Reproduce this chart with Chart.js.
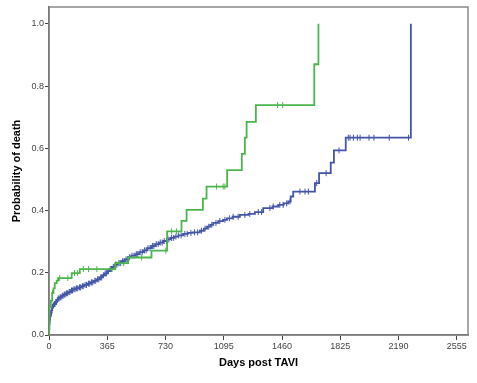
<!DOCTYPE html>
<html><head><meta charset="utf-8">
<script src="https://cdn.jsdelivr.net/npm/chart.js@4/dist/chart.umd.min.js"></script>
<style>html,body{margin:0;padding:0;background:#fff;}canvas{display:block;}</style>
</head><body>
<canvas id="c" width="477" height="383"></canvas>
<script>
// ---- data ----
const xTickValues = [0, 365, 730, 1095, 1460, 1825, 2190, 2555];
const yTickValues = [0.0, 0.2, 0.4, 0.6, 0.8, 1.0];

// Green group: event day -> cumulative probability of death
const greenDays = [0, 1, 3, 12, 20, 28, 36, 48, 57, 142, 193, 415, 496, 642, 740, 830, 862, 964, 987, 1116, 1208, 1227, 1238, 1296, 1662, 1688];
const greenProb = [0, 0.045, 0.09, 0.11, 0.135, 0.15, 0.167, 0.175, 0.183, 0.199, 0.212, 0.231, 0.249, 0.271, 0.333, 0.367, 0.402, 0.438, 0.477, 0.53, 0.582, 0.634, 0.685, 0.739, 0.87, 1.0];
const greenCensored = [22, 67, 118, 160, 178, 215, 248, 300, 395, 440, 468, 580, 732, 768, 799, 1050, 1091, 1102, 1432, 1464];

// Blue group
const blueDays = [0, 1, 2, 4, 7, 10, 15, 20, 25, 32, 40, 48, 56, 65, 78, 90, 105, 119, 135, 150, 165, 185, 203, 220, 240, 260, 280, 300, 318, 335, 350, 365, 380, 395, 412, 430, 454, 475, 496, 515, 540, 565, 590, 615, 640, 665, 690, 715, 740, 760, 785, 810, 840, 870, 900, 945, 970, 990, 1010, 1029, 1060, 1090, 1115, 1150, 1196, 1250, 1290, 1342, 1400, 1436, 1470, 1499, 1514, 1530, 1666, 1692, 1765, 1785, 1859, 2267];
const blueProb = [0, 0.02, 0.035, 0.05, 0.06, 0.07, 0.08, 0.09, 0.095, 0.10, 0.106, 0.112, 0.117, 0.121, 0.126, 0.13, 0.134, 0.138, 0.143, 0.147, 0.15, 0.153, 0.157, 0.161, 0.165, 0.169, 0.174, 0.179, 0.185, 0.192, 0.198, 0.205, 0.212, 0.219, 0.226, 0.231, 0.237, 0.243, 0.25, 0.255, 0.26, 0.266, 0.272, 0.279, 0.286, 0.292, 0.297, 0.302, 0.307, 0.312, 0.316, 0.32, 0.325, 0.328, 0.33, 0.335, 0.342, 0.348, 0.354, 0.36, 0.366, 0.37, 0.375, 0.38, 0.386, 0.389, 0.395, 0.408, 0.413, 0.418, 0.423, 0.429, 0.445, 0.461, 0.488, 0.52, 0.554, 0.593, 0.634, 1.0];
const blueCensored = [3, 5, 8, 11, 14, 18, 22, 26, 29, 34, 38, 43, 47, 52, 58, 63, 70, 75, 83, 88, 96, 101, 110, 117, 126, 131, 141, 147, 156, 163, 172, 180, 191, 198, 209, 214, 226, 235, 247, 255, 266, 274, 287, 293, 305, 312, 324, 330, 341, 352, 361, 372, 384, 391, 403, 417, 425, 438, 449, 461, 470, 483, 492, 505, 520, 533, 547, 556, 571, 584, 598, 608, 620, 633, 648, 657, 672, 684, 697, 709, 722, 736, 751, 767, 779, 795, 812, 828, 851, 866, 889, 912, 931, 955, 978, 1001, 1020, 1046, 1070, 1102, 1130, 1154, 1185, 1227, 1258, 1311, 1332, 1384, 1405, 1446, 1467, 1489, 1510, 1572, 1604, 1625, 1677, 1736, 1817, 1875, 1886, 1907, 1932, 1949, 2005, 2036, 2132, 2252];

const GREEN = '#4cb54c';
const BLUE = '#4255a8';

// ---- build library structures ----
function stepValue(days, prob, t) {
  let v = prob[0];
  for (let i = 0; i < days.length; i++) { if (days[i] <= t) v = prob[i]; else break; }
  return v;
}
const toPts = (d, p) => d.map((x, i) => ({x, y: p[i]}));
const censorPts = (c, d, p) => c.map(x => ({x, y: stepValue(d, p, x)}));

const frame = {
  id: 'frame',
  beforeDatasetsDraw(chart) {
    const {ctx, chartArea: a} = chart;
    ctx.save();
    ctx.strokeStyle = '#8a8a8a';
    ctx.lineWidth = 1.5;
    ctx.strokeRect(a.left, a.top, a.right - a.left, a.bottom - a.top);
    ctx.restore();
  }
};

const tickFont = {family: '"Liberation Sans", Arial, sans-serif', size: 9};
const titleFont = {family: '"Liberation Sans", Arial, sans-serif', size: 11, weight: 'bold'};

new Chart(document.getElementById('c'), {
  type: 'line',
  data: {
    datasets: [
      {data: toPts(greenDays, greenProb), borderColor: GREEN, borderWidth: 1.8, stepped: true, pointRadius: 0, fill: false},
      {data: toPts(blueDays, blueProb), borderColor: BLUE, borderWidth: 1.8, stepped: true, pointRadius: 0, fill: false},
      {data: censorPts(greenCensored, greenDays, greenProb), showLine: false, pointStyle: 'line', rotation: 90, pointRadius: 3, borderColor: GREEN, borderWidth: 1, backgroundColor: GREEN},
      {data: censorPts(blueCensored, blueDays, blueProb), showLine: false, pointStyle: 'line', rotation: 90, pointRadius: 3, borderColor: BLUE, borderWidth: 1, backgroundColor: BLUE}
    ]
  },
  options: {
    responsive: false,
    animation: false,
    devicePixelRatio: 1,
    layout: {padding: {top: 7, right: 9, left: 0, bottom: 0}},
    plugins: {legend: {display: false}, tooltip: {enabled: false}},
    scales: {
      x: {
        type: 'linear', min: 0, max: 2625,
        afterBuildTicks: s => { s.ticks = xTickValues.map(v => ({value: v})); },
        afterFit: s => { s.height = 48; },
        grid: {drawOnChartArea: false, drawTicks: true, tickLength: 5, color: '#444', lineWidth: 1},
        border: {display: true, color: '#444', width: 1.5},
        ticks: {font: tickFont, color: '#444', padding: 1, maxRotation: 0, autoSkip: false, callback: v => String(v)},
        title: {display: true, text: 'Days post TAVI', font: titleFont, color: '#000', padding: {top: 0, bottom: 13}}
      },
      y: {
        type: 'linear', min: 0, max: 1.054,
        afterBuildTicks: s => { s.ticks = yTickValues.map(v => ({value: v})); },
        afterFit: s => { s.width = 49; },
        grid: {drawOnChartArea: false, drawTicks: true, tickLength: 4, color: '#444', lineWidth: 1},
        border: {display: true, color: '#444', width: 1.5},
        ticks: {font: tickFont, color: '#444', padding: 1, autoSkip: false, callback: v => Number(v).toFixed(1)},
        title: {display: true, text: 'Probability of death', font: titleFont, color: '#000', padding: {top: 10, bottom: 0}}
      }
    }
  },
  plugins: [frame]
});
</script>
</body></html>
